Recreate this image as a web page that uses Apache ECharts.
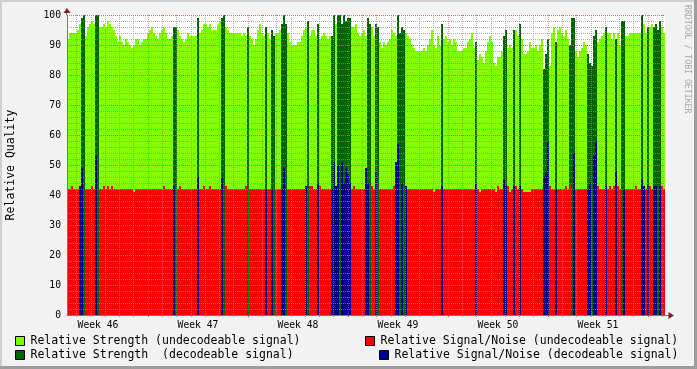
<!DOCTYPE html>
<html><head><meta charset="utf-8">
<script src="https://cdn.jsdelivr.net/npm/echarts@6/dist/echarts.min.js"></script>
<style>html,body{margin:0;padding:0;background:#f2f2f2}#c{width:697px;height:369px}</style>
</head><body><div id="c"></div>
<script>
// ---- data ----
const weekLabels = ['Week 46','Week 47','Week 48','Week 49','Week 50','Week 51'];
const weekCenters = [84, 252, 420, 588, 756, 924];      // hours since start of week 46
const weekStarts = [168, 336, 504, 672, 840, 1008];
const yLabels = [0,10,20,30,40,50,60,70,80,90,100];
const firstSampleHour = 31.92;
const sampleHours = 3.36;

const strength = [
92,94,94,94,94,95,97,99,100,93,
96,97,98,97,100,100,96,96,97,96,
98,97,96,95,93,91,93,91,90,92,
91,90,89,90,92,92,90,91,92,92,
94,95,96,94,93,92,94,95,96,94,
92,92,93,96,96,95,93,92,91,92,
94,93,93,93,93,99,94,95,97,97,
96,97,95,95,95,97,98,99,100,96,
95,94,94,94,94,94,94,93,94,93,
96,93,92,90,92,95,97,94,93,96,
94,92,95,93,94,94,95,97,100,97,
94,91,90,90,90,91,91,93,95,96,
98,93,95,95,93,97,92,93,94,93,
92,93,93,100,97,100,100,97,100,98,
99,99,96,96,97,94,93,94,95,93,
99,97,96,93,97,96,91,89,91,90,
91,92,95,94,93,100,94,96,95,94,
93,92,90,89,88,88,88,88,89,88,
90,92,95,90,89,93,90,97,92,93,
91,92,90,92,91,88,88,88,89,89,
91,92,94,89,91,85,87,86,84,88,
91,93,91,84,83,86,86,88,93,95,
89,90,89,95,95,93,97,92,87,87,
88,91,89,89,90,88,90,92,82,87,
92,83,94,96,91,95,96,94,93,95,
92,90,99,99,88,86,88,89,91,90,
87,84,83,93,95,91,92,93,94,96,
94,94,92,94,92,94,90,98,98,93,
93,94,94,94,94,94,94,100,97,94,
96,96,97,96,97,95,98,96,94
];
const strengthDecodeable = [7,8,14,15,53,54,65,77,78,90,99,102,103,107,108,109,120,125,132,133,135,136,137,138,139,140,141,150,151,154,155,165,166,167,168,187,204,218,219,223,226,238,239,240,244,251,252,253,260,261,262,263,264,269,274,277,278,287,290,293,294,295,296];

const snr = [
42,42,43,42,42,42,43,49,null,42,
42,42,43,42,53,null,42,42,43,42,
43,42,43,42,42,42,42,42,42,42,
42,42,42,41,42,42,42,42,42,42,
42,42,42,42,42,42,42,42,43,42,
42,42,42,43,null,42,43,42,42,42,
42,42,42,42,42,46,42,42,43,42,
42,43,42,42,42,42,42,46,null,43,
42,42,42,42,42,42,42,42,42,43,
null,42,42,42,42,42,42,42,42,42,
42,42,42,null,42,42,42,42,49,null,
42,42,42,42,42,42,42,42,42,43,
null,43,43,42,42,44,43,42,42,42,
42,42,42,51,43,50,null,51,44,49,
47,44,42,43,42,42,42,42,42,49,
44,null,43,42,48,null,42,42,42,42,
42,42,42,43,51,57,null,44,null,43,
42,42,42,42,42,42,42,42,42,42,
42,42,42,41,42,42,42,43,42,42,
42,42,42,42,42,42,42,42,42,42,
42,42,42,42,44,42,41,42,42,42,
42,42,42,42,41,43,42,42,45,43,
43,41,42,43,43,42,43,42,41,41,
41,41,42,42,42,42,42,42,46,48,
58,43,42,42,42,42,42,42,42,43,
42,43,null,54,42,42,42,42,42,42,
42,44,null,53,58,43,42,42,42,43,
42,43,42,43,48,43,42,null,42,42,
42,42,42,42,43,42,42,45,43,42,
43,43,42,43,43,null,43,43,42
];
const snrDecodeable = [6,7,14,53,65,77,99,102,107,108,119,125,132,133,134,135,137,138,139,140,141,149,150,154,164,165,167,169,187,204,218,219,223,226,238,239,240,244,253,260,261,263,264,269,274,278,287,288,290,293,294,296];

const names = [
  'Relative Strength (undecodeable signal)',
  'Relative Strength  (decodeable signal)',
  'Relative Signal/Noise (undecodeable signal)',
  'Relative Signal/Noise (decodeable signal)'
];
const colors = ['#80FF00', '#006400', '#FF0000', '#00008C'];

// ---- build ----
const xMin = firstSampleHour;
const xMax = firstSampleHour + strength.length * sampleHours;
const dayLines = [];
for (let h = 48; h < xMax; h += 24) if (h % 168 !== 0) dayLines.push(h);

const decS = new Set(strengthDecodeable), decN = new Set(snrDecodeable);
const sets = [[], [], [], []];
strength.forEach((v, i) => {
  const t0 = firstSampleHour + i * sampleHours, t1 = t0 + sampleHours;
  if (v != null) sets[decS.has(i) ? 1 : 0].push([t0, t1, v]);
  const n = snr[i];
  if (n != null) sets[decN.has(i) ? 3 : 2].push([t0, t1, n]);
});

function renderBar(params, api) {
  const v = api.value(2);
  const a = api.coord([api.value(0), v]);
  const b = api.coord([api.value(1), 0]);
  const x0 = Math.round(a[0]), x1 = Math.round(b[0]);
  const y0 = Math.round(a[1]), y1 = Math.round(b[1]);
  return { type: 'rect', shape: { x: x0, y: y0, width: x1 - x0, height: y1 - y0 },
           style: { fill: api.visual('color') } };
}

const FONT = 'DejaVu Sans Mono';
const gridGray = 'rgba(143,143,143,0.75)';
const gridRed = 'rgba(222,79,79,0.6)';

const chart = echarts.init(document.getElementById('c'), null, { renderer: 'canvas' });
chart.setOption({
  animation: false,
  backgroundColor: '#f2f2f2',
  grid: { left: 67, top: 15, width: 598, height: 300, show: true, backgroundColor: '#ffffff', borderWidth: 0, containLabel: false, outerBoundsMode: 'none' },
  xAxis: [
    { type: 'value', min: xMin, max: xMax, position: 'bottom', z: 5,
      axisLine: { show: true, onZero: false, lineStyle: { color: '#777', width: 1 } },
      axisTick: { show: true, customValues: dayLines, length: 2, inside: false, lineStyle: { color: '#999' } },
      splitLine: { show: true, lineStyle: { color: gridGray, width: 1, type: [1, 1] } },
      axisLabel: { show: false } },
    { type: 'value', min: xMin, max: xMax, position: 'bottom', z: 5,
      axisLine: { show: false },
      axisTick: { show: true, customValues: weekStarts, length: 2, lineStyle: { color: '#de4f4f' } },
      splitLine: { show: true, lineStyle: { color: gridRed, width: 1, type: [1, 1] } },
      axisLabel: { show: true, customValues: weekCenters, margin: 5, color: '#000', fontFamily: FONT, fontSize: 9.7,
        formatter: v => { let k = 0; weekCenters.forEach((c, i) => { if (Math.abs(c - v) < Math.abs(weekCenters[k] - v)) k = i; }); return weekLabels[k]; } } }
  ],
  yAxis: [
    { type: 'value', min: 0, max: 100, interval: 2, position: 'left', z: 5,
      name: 'Relative Quality', nameLocation: 'middle', nameGap: 50,
      nameTextStyle: { fontFamily: FONT, fontSize: 11.5, color: '#000' },
      axisLine: { show: true, onZero: false, lineStyle: { color: '#777', width: 1 } },
      axisTick: { show: false },
      splitLine: { show: true, lineStyle: { color: gridGray, width: 1, type: [1, 1] } },
      axisLabel: { margin: 6, color: '#000', fontFamily: FONT, fontSize: 9.7,
        formatter: v => (yLabels.indexOf(v) >= 0 ? String(v) : '') } },
    { type: 'value', min: 0, max: 100, interval: 10, position: 'left', z: 5,
      axisLine: { show: false }, axisTick: { show: false }, axisLabel: { show: false },
      splitLine: { show: true, lineStyle: { color: gridRed, width: 1, type: [1, 1] } } }
  ],
  legend: [
    { data: [names[0]], left: 15, top: 334 },
    { data: [names[1]], left: 15, top: 348 },
    { data: [names[2]], left: 365, top: 334 },
    { data: [names[3]], left: 379, top: 348 }
  ].map(l => Object.assign(l, {
    orient: 'horizontal', padding: 0, icon: 'rect', itemWidth: 9, itemHeight: 9, selectedMode: false,
    itemStyle: { borderColor: '#000', borderWidth: 1 },
    textStyle: { fontFamily: FONT, fontSize: 11.5, color: '#000', lineHeight: 14, padding: [0, 0, 0, 1] }
  })),
  series: sets.map((d, i) => ({
    type: 'custom', name: names[i], data: d, renderItem: renderBar,
    xAxisIndex: 0, yAxisIndex: 0, encode: { x: [0, 1], y: 2 }, z: 2,
    itemStyle: { color: colors[i] }, silent: true
  })),
  graphic: [
    { type: 'rect', shape: { x: 0, y: 0, width: 697, height: 2 }, style: { fill: '#cfcfcf' }, silent: true },
    { type: 'rect', shape: { x: 0, y: 0, width: 2, height: 369 }, style: { fill: '#cfcfcf' }, silent: true },
    { type: 'rect', shape: { x: 0, y: 366, width: 697, height: 3 }, style: { fill: '#9e9e9e' }, silent: true },
    { type: 'rect', shape: { x: 694, y: 0, width: 3, height: 369 }, style: { fill: '#9e9e9e' }, silent: true },
    { type: 'line', shape: { x1: 66.5, y1: 15, x2: 66.5, y2: 11 }, style: { stroke: '#777', lineWidth: 1 }, silent: true },
    { type: 'line', shape: { x1: 665, y1: 315.5, x2: 669, y2: 315.5 }, style: { stroke: '#777', lineWidth: 1 }, silent: true },
    { type: 'polygon', shape: { points: [[63.5, 13], [70.5, 13], [67, 8]] }, style: { fill: '#7f1f1f' }, silent: true },
    { type: 'polygon', shape: { points: [[668.5, 312], [668.5, 319], [674, 315.5]] }, style: { fill: '#7f1f1f' }, silent: true },
    { type: 'text', x: 691, y: 5, rotation: -Math.PI / 2, silent: true,
      style: { text: 'RRDTOOL / TOBI OETIKER', font: '8.2px "DejaVu Sans Mono"', fill: '#a8a8a8', align: 'left', verticalAlign: 'top' } }
  ]
});
</script>
</body></html>
